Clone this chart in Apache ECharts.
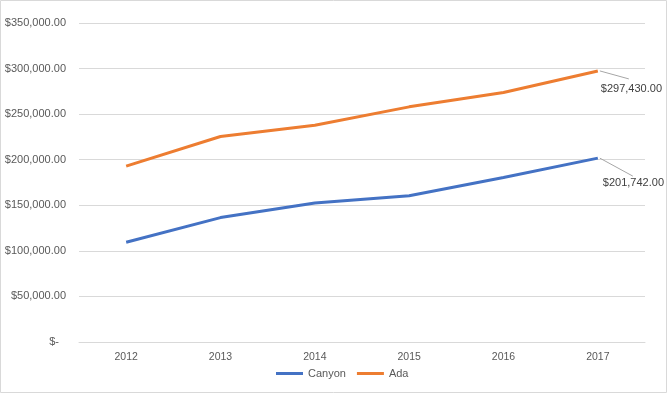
<!DOCTYPE html>
<html><head><meta charset="utf-8">
<script src="https://cdn.jsdelivr.net/npm/echarts@6/dist/echarts.min.js"></script>
<style>html,body{margin:0;padding:0;background:#fff}#c{width:667px;height:393px}</style>
</head><body><div id="c"></div>
<script>
const years = ['2012','2013','2014','2015','2016','2017'];
const canyon = [109500, 136500, 152500, 160500, 180500, 201742];
const ada = [193000, 225500, 237800, 258000, 273800, 297430];
const yTicks = [0, 50000, 100000, 150000, 200000, 250000, 300000, 350000];

function money(v){
  if (v === 0) return '{z|$-}';
  return '$' + v.toLocaleString('en-US',{minimumFractionDigits:2,maximumFractionDigits:2});
}
function withLastLabel(arr){
  return arr.map((v,i)=> i===arr.length-1 ? {value:v, label:{show:true}} : v);
}
const font = 'Liberation Sans';
const chart = echarts.init(document.getElementById('c'));
const border = {type:'rect',shape:{x:0.5,y:0.5,width:666,height:392},style:{fill:null,stroke:'#d9d9d9',lineWidth:1},silent:true};
chart.setOption({
  animation:false,
  textStyle:{fontFamily:font},
  graphic:[border],
  grid:{left:79,right:22,top:23,bottom:51,containLabel:false},
  legend:{left:271,top:363,itemWidth:27,itemHeight:3,itemGap:11,
    textStyle:{fontFamily:font,fontSize:11,color:'#595959'},
    data:[{name:'Canyon',icon:'rect'},{name:'Ada',icon:'rect'}]},
  xAxis:{type:'category',data:years,boundaryGap:true,
    axisLine:{lineStyle:{color:'#d9d9d9'}},axisTick:{show:false},
    axisLabel:{fontFamily:font,fontSize:10.5,color:'#595959',margin:10}},
  yAxis:{type:'value',min:yTicks[0],max:yTicks[yTicks.length-1],interval:yTicks[1]-yTicks[0],
    axisLine:{show:false},axisTick:{show:false},
    splitLine:{lineStyle:{color:'#d9d9d9'}},
    axisLabel:{fontFamily:font,fontSize:11,color:'#595959',margin:13,formatter:money,
      rich:{z:{fontFamily:font,fontSize:11,color:'#595959',padding:[0,7,0,0]}}}},
  series:[
    {name:'Canyon',type:'line',data:withLastLabel(canyon),symbol:'circle',symbolSize:0.01,showSymbol:true,
      lineStyle:{width:3,color:'#4472C4'},itemStyle:{color:'#4472C4'},
      label:{show:false,position:'right',distance:5,fontFamily:font,fontSize:11,color:'#404040',
        formatter:p=>money(p.value)},
      labelLayout:{dx:0,dy:25}},
    {name:'Ada',type:'line',data:withLastLabel(ada),symbol:'circle',symbolSize:0.01,showSymbol:true,
      lineStyle:{width:3,color:'#ED7D31'},itemStyle:{color:'#ED7D31'},
      label:{show:false,position:'right',distance:3,fontFamily:font,fontSize:11,color:'#404040',
        formatter:p=>money(p.value)},
      labelLayout:{dx:0,dy:18}}
  ]
});
// leader lines from last points to labels
const last = years.length - 1;
const pA = chart.convertToPixel({seriesIndex:1}, [last, ada[last]]);
const pC = chart.convertToPixel({seriesIndex:0}, [last, canyon[last]]);
const lead = (p, dx, dy) => ({type:'line',silent:true,z:10,
  shape:{x1:p[0]+2,y1:p[1],x2:p[0]+dx,y2:p[1]+dy},
  style:{stroke:'#a6a6a6',lineWidth:1}});
chart.setOption({graphic:[border, lead(pA,31,8), lead(pC,35,18)]}, {replaceMerge:['graphic']});
</script></body></html>
